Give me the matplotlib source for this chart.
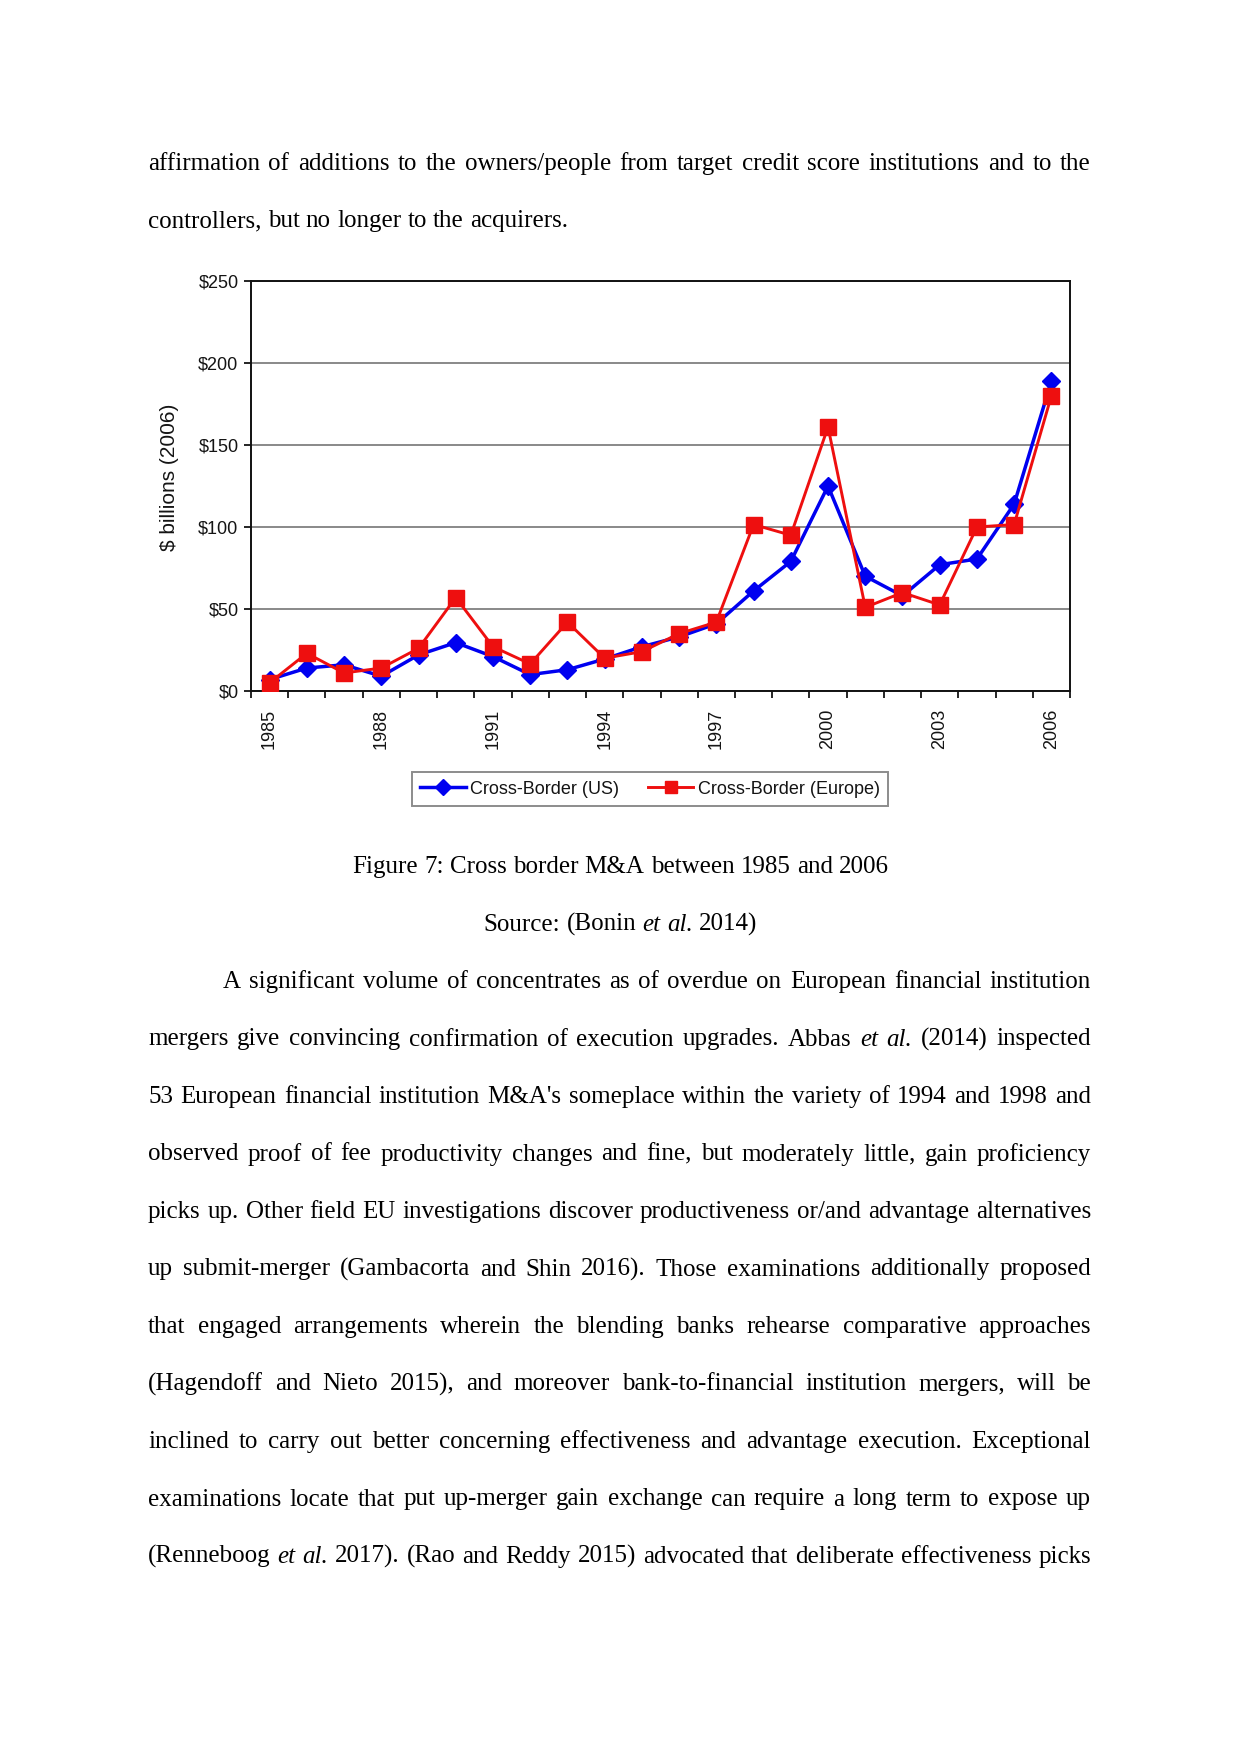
import numpy as np
import matplotlib
matplotlib.use("Agg")
import matplotlib.pyplot as plt

# ---------------- data ----------------
years = list(range(1985, 2007))
us_values = [7, 14, 16, 9, 22, 29.5, 21, 10, 13, 19.5, 27, 33, 41,
             61, 79, 125, 70, 58, 77, 80.5, 114, 189]
europe_values = [5, 23, 11, 14, 26, 57, 27, 16.5, 42, 20, 24, 35, 42,
                 101.5, 95, 161, 51, 60, 52.5, 100, 101.5, 180]
year_tick_labels = [1985, 1988, 1991, 1994, 1997, 2000, 2003, 2006]
y_ticks = [0, 50, 100, 150, 200, 250]
y_tick_labels = ["\\$0", "\\$50", "\\$100", "\\$150", "\\$200", "\\$250"]
series_names = ["Cross-Border (US)", "Cross-Border (Europe)"]
y_label = "\\$ billions (2006)"

top_lines = [
    "affirmation of additions to the owners/people from target credit score institutions and to the",
    "controllers, but no longer to the acquirers.",
]
caption = "Figure 7: Cross border M&A between 1985 and 2006"
source = "Source: (Bonin *et *al.* 2014)"
paragraph = [
    "A significant volume of concentrates as of overdue on European financial institution",
    "mergers give convincing confirmation of execution upgrades. Abbas *et *al.* (2014) inspected",
    "53 European financial institution M&A's someplace within the variety of 1994 and 1998 and",
    "observed proof of fee productivity changes and fine, but moderately little, gain proficiency",
    "picks up. Other field EU investigations discover productiveness or/and advantage alternatives",
    "up submit-merger (Gambacorta and Shin 2016). Those examinations additionally proposed",
    "that engaged arrangements wherein the blending banks rehearse comparative approaches",
    "(Hagendoff and Nieto 2015), and moreover bank-to-financial institution mergers, will be",
    "inclined to carry out better concerning effectiveness and advantage execution. Exceptional",
    "examinations locate that put up-merger gain exchange can require a long term to expose up",
    "(Renneboog *et *al.* 2017). (Rao and Reddy 2015) advocated that deliberate effectiveness picks",
]

W, H = 1241, 1754
fig = plt.figure(figsize=(W / 100, H / 100), dpi=100)
fig.patch.set_facecolor("white")

# ---------------- chart ----------------
SANS = "Liberation Sans"
TXT = "#141414"
ax = fig.add_axes([251 / W, 1 - 691 / H, 819 / W, 410 / H])
ax.plot(years, us_values, color="#0000F0", lw=2.5, marker="D", ms=9.5,
        label=series_names[0], zorder=3)
ax.plot(years, europe_values, color="#EE0F0F", lw=2.1, marker="s", ms=11,
        label=series_names[1], zorder=4)
ax.set_xlim(1984.5, 2006.5)
ax.set_ylim(0, 250)
ax.set_yticks(y_ticks)
ax.set_yticklabels(y_tick_labels, fontsize=13, family=SANS, color=TXT)
ax.set_xticks(year_tick_labels)
ax.set_xticklabels([str(y) for y in year_tick_labels], rotation=90,
                   fontsize=13, family=SANS, color=TXT)
ax.set_xticks(np.arange(1984.5, 2007, 1), minor=True)
ax.tick_params(axis="x", which="major", length=0, pad=13)
ax.tick_params(axis="x", which="minor", length=5, width=1.2, direction="out")
ax.tick_params(axis="y", which="major", length=5, width=1.2, direction="out", pad=4)
ax.yaxis.grid(True, color="#808080", lw=1.3)
ax.set_axisbelow(True)
for sp in ax.spines.values():
    sp.set_color("#111111")
    sp.set_linewidth(1.4)
ax.set_ylabel(y_label, fontsize=15, family=SANS, color=TXT)
ax.yaxis.set_label_coords(-0.088, 0.52)

leg = fig.legend(loc="center", bbox_to_anchor=(650 / W, 1 - 789 / H),
                 ncol=2, fancybox=False, frameon=True, numpoints=1,
                 handlelength=2.5, handletextpad=0.25, columnspacing=1.6,
                 prop={"family": SANS, "size": 13}, borderpad=0.45)
leg.get_frame().set_edgecolor("#707070")
leg.get_frame().set_linewidth(1.4)
for t in leg.get_texts():
    t.set_color(TXT)
for h in leg.legend_handles:
    h.set_markersize(h.get_markersize() * 0.85)

# ---------------- body text ----------------
SERIF = "Liberation Serif"
FS = 18
renderer = fig.canvas.get_renderer()


def tokens_of(line):
    toks = []
    for w in line.split(" "):
        if w.startswith("*"):
            toks.append((w.strip("*"), "italic"))
        else:
            toks.append((w, "normal"))
    return toks


def measure(s, style="normal"):
    t = fig.text(0, 0, s, fontsize=FS, family=SERIF, style=style)
    w = t.get_window_extent(renderer).width
    t.remove()
    return w


space_w = measure("a a") - measure("aa")


def place(line, ybase, mode, x0=148, x1=1091):
    toks = tokens_of(line)
    texts = []
    for w, st in toks:
        texts.append(fig.text(0, 1 - ybase / H, w, fontsize=FS, family=SERIF,
                              style=st, va="baseline", ha="left", color="black"))
    widths = [t.get_window_extent(renderer).width for t in texts]
    n = len(texts)
    if mode == "justify" and n > 1:
        gap = (x1 - x0 - sum(widths)) / (n - 1)
        start = x0
    else:
        gap = space_w
        total = sum(widths) + gap * (n - 1)
        start = (W / 2 - total / 2) if mode == "center" else x0
    x = start
    for t, w in zip(texts, widths):
        t.set_x(x / W)
        x += w + gap


place(top_lines[0], 170, "justify")
place(top_lines[1], 227, "left")
place(caption, 873, "center")
place(source, 931, "center")
base = 988
step = 57.5
for i, line in enumerate(paragraph):
    x0 = 223 if i == 0 else 148
    place(line, base + i * step, "justify", x0=x0)

fig.savefig("out.png", dpi=100, facecolor="white")
